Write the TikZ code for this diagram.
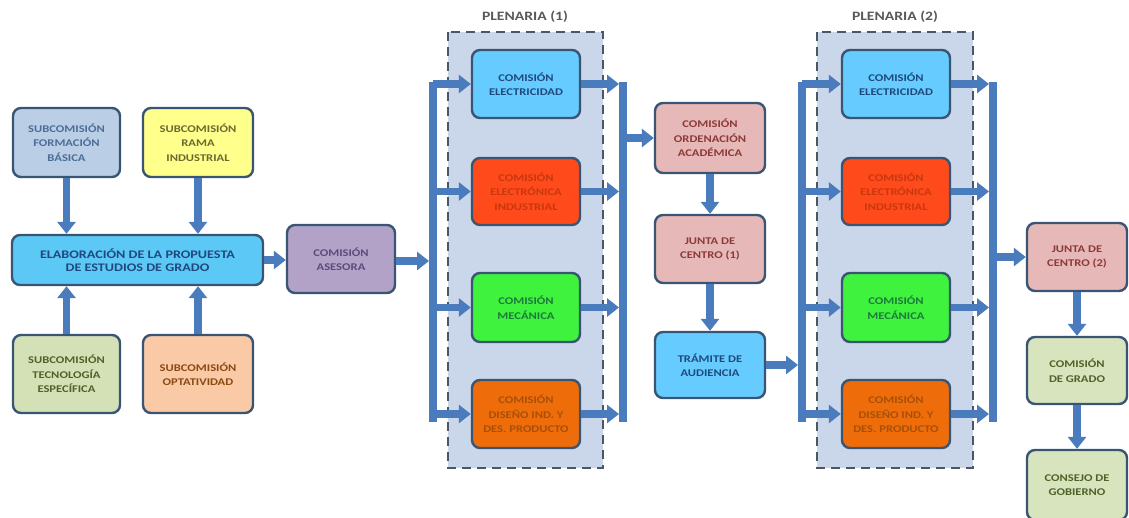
\documentclass[tikz,border=0pt]{standalone}
\usepackage{fontspec}
\setmainfont{Carlito}[FakeStretch=1.22]
\usetikzlibrary{arrows.meta,calc}
\definecolor{arrowc}{HTML}{4A7BBD}
\definecolor{boxline}{HTML}{3A5574}
\definecolor{plenfill}{HTML}{CAD6EA}
\definecolor{dashc}{HTML}{4A5866}
\definecolor{txtblue}{HTML}{1F497D}
\definecolor{cFB}{HTML}{BACEE6}
\definecolor{cRI}{HTML}{FFFF8C}
\definecolor{cEL}{HTML}{5CC8F5}
\definecolor{cTE}{HTML}{D4E1B7}
\definecolor{cOP}{HTML}{FAC9A6}
\definecolor{cAS}{HTML}{B3A2C7}
\definecolor{cEC}{HTML}{66CCFF}
\definecolor{cEN}{HTML}{FF4A1C}
\definecolor{cME}{HTML}{3EF23E}
\definecolor{cDI}{HTML}{EE6C0A}
\definecolor{cPK}{HTML}{E6B9B8}
\definecolor{cGR}{HTML}{D7E4BD}
\definecolor{tRed}{HTML}{C8380E}
\definecolor{tOra}{HTML}{A85008}
\definecolor{tGrn}{HTML}{1E7A3C}
\definecolor{tPur}{HTML}{5F4A7B}
\definecolor{tPnk}{HTML}{8C3A38}
\definecolor{tOli}{HTML}{4F6228}
\definecolor{tBrn}{HTML}{8A4A12}
\definecolor{tYel}{HTML}{6A6A30}
\tikzset{
  box/.style={draw=boxline, line width=2.4pt, rounded corners=8pt, align=center,
    inner sep=2pt, text=txtblue,
    font=\bfseries\fontsize{10.3}{14.5}\selectfont},
  flow/.style={draw=arrowc, line width=7.5pt, -{Triangle[width=18pt,length=12pt]}},
  busline/.style={draw=arrowc, line width=8pt, line cap=rect},
  plen/.style={fill=plenfill, draw=dashc, line width=2pt, dash pattern=on 9pt off 6pt},
  plab/.style={text=black!65, font=\bfseries\fontsize{12.8}{14}\selectfont}
}
\begin{document}
\begin{tikzpicture}[x=1pt,y=-1pt]
\clip (0,0) rectangle (1129,517);
\fill[white] (0,0) rectangle (1129,517);

% plenaria frames
\draw[plen] (448,32) rectangle (603,468);
\draw[plen] (817,32) rectangle (973,468);
\node[plab] (pl1) at (525,17) {PLENARIA (1)};
\node[plab] (pl2) at (895,17) {PLENARIA (2)};

% left block
\node[box, fill=cFB, text=txtblue!80, minimum width=107pt, minimum height=69pt] (fb) at (66.5,142.5) {SUBCOMISIÓN\\FORMACIÓN\\BÁSICA};
\node[box, fill=cRI, text=tYel, minimum width=110pt, minimum height=69pt] (ri) at (198,142.5) {SUBCOMISIÓN\\RAMA\\INDUSTRIAL};
\node[box, fill=cEL, minimum width=251pt, minimum height=50pt, font=\bfseries\fontsize{11.6}{13.5}\selectfont] (el) at (137.5,260) {ELABORACIÓN DE LA PROPUESTA\\DE ESTUDIOS DE GRADO};
\node[box, fill=cTE, text=tOli, minimum width=107pt, minimum height=78pt] (te) at (66.5,374) {SUBCOMISIÓN\\TECNOLOGÍA\\ESPECÍFICA};
\node[box, fill=cOP, text=tBrn, minimum width=110pt, minimum height=78pt] (op) at (198,374) {SUBCOMISIÓN\\OPTATIVIDAD};
\node[box, fill=cAS, text=tPur, minimum width=108pt, minimum height=68pt] (as) at (341,259) {COMISIÓN\\ASESORA};

% plenaria 1
\node[box, fill=cEC, minimum width=108pt, minimum height=68pt] (e1) at (526,84) {COMISIÓN\\ELECTRICIDAD};
\node[box, fill=cEN, text=tRed, minimum width=108pt, minimum height=67pt] (n1) at (526,191.5) {COMISIÓN\\ELECTRÓNICA\\INDUSTRIAL};
\node[box, fill=cME, text=tGrn, minimum width=108pt, minimum height=69pt] (m1) at (526,307.5) {COMISIÓN\\MECÁNICA};
\node[box, fill=cDI, text=tOra, minimum width=108pt, minimum height=68pt] (d1) at (526,414) {COMISIÓN\\DISEÑO IND. Y\\DES. PRODUCTO};

% middle column
\node[box, fill=cPK, text=tPnk, minimum width=110pt, minimum height=70pt] (or) at (710,138) {COMISIÓN\\ORDENACIÓN\\ACADÉMICA};
\node[box, fill=cPK, text=tPnk, minimum width=110pt, minimum height=68pt] (j1) at (710,249) {JUNTA DE\\CENTRO (1)};
\node[box, fill=cEC, minimum width=110pt, minimum height=66pt] (tr) at (710,365) {TRÁMITE DE\\AUDIENCIA};

% plenaria 2
\node[box, fill=cEC, minimum width=108pt, minimum height=68pt] (e2) at (896,84) {COMISIÓN\\ELECTRICIDAD};
\node[box, fill=cEN, text=tRed, minimum width=108pt, minimum height=67pt] (n2) at (896,191.5) {COMISIÓN\\ELECTRÓNICA\\INDUSTRIAL};
\node[box, fill=cME, text=tGrn, minimum width=108pt, minimum height=69pt] (m2) at (896,307.5) {COMISIÓN\\MECÁNICA};
\node[box, fill=cDI, text=tOra, minimum width=108pt, minimum height=68pt] (d2) at (896,414) {COMISIÓN\\DISEÑO IND. Y\\DES. PRODUCTO};

% right column
\node[box, fill=cPK, text=tPnk, minimum width=100pt, minimum height=68pt] (j2) at (1077,257) {JUNTA DE\\CENTRO (2)};
\node[box, fill=cGR, text=tOli, minimum width=100pt, minimum height=67pt] (gr) at (1077,370.5) {COMISIÓN\\DE GRADO};
\node[box, fill=cGR, text=tOli, minimum width=100pt, minimum height=70pt] (co) at (1077,485) {CONSEJO DE\\GOBIERNO};

% bus coordinates
\coordinate (b1t) at (433,86);
\coordinate (b1b) at (433,418);
\coordinate (b2t) at (623,86);
\coordinate (b2b) at (623,418);
\coordinate (b3t) at (802,86);
\coordinate (b3b) at (802,418);
\coordinate (b4t) at (993,86);
\coordinate (b4b) at (993,418);
\coordinate (b1in) at (429,261);
\coordinate (b3in) at (798,365);

% buses
\draw[busline] (b1t) -- (b1b);
\draw[busline] (b2t) -- (b2b);
\draw[busline] (b3t) -- (b3b);
\draw[busline] (b4t) -- (b4b);

% left arrows
\draw[flow] (fb.south) -- (fb.south |- el.north);
\draw[flow] (ri.south) -- (ri.south |- el.north);
\draw[flow] (te.north) -- (te.north |- el.south);
\draw[flow] (op.north) -- (op.north |- el.south);
\draw[flow] (el.east) -- (el.east -| as.west);
\draw[flow] (as.east |- b1in) -- (b1in);

% plenaria 1 arrows
\foreach \n in {e1,n1,m1,d1}{
  \draw[flow] (b1t |- \n.west) -- (\n.west);
  \draw[flow] (\n.east) -- ($(b2t |- \n.east)+(-4,0)$);
}
\draw[flow] (b2t |- or.west) -- (or.west);
\draw[flow] (or.south) -- (j1.north);
\draw[flow] (j1.south) -- (tr.north);
\draw[flow] (tr.east |- b3in) -- (b3in);

% plenaria 2 arrows
\foreach \n in {e2,n2,m2,d2}{
  \draw[flow] (b3t |- \n.west) -- (\n.west);
  \draw[flow] (\n.east) -- ($(b4t |- \n.east)+(-4,0)$);
}
\draw[flow] (b4t |- j2.west) -- (j2.west);
\draw[flow] (j2.south) -- (gr.north);
\draw[flow] (gr.south) -- (co.north);
\end{tikzpicture}
\end{document}
